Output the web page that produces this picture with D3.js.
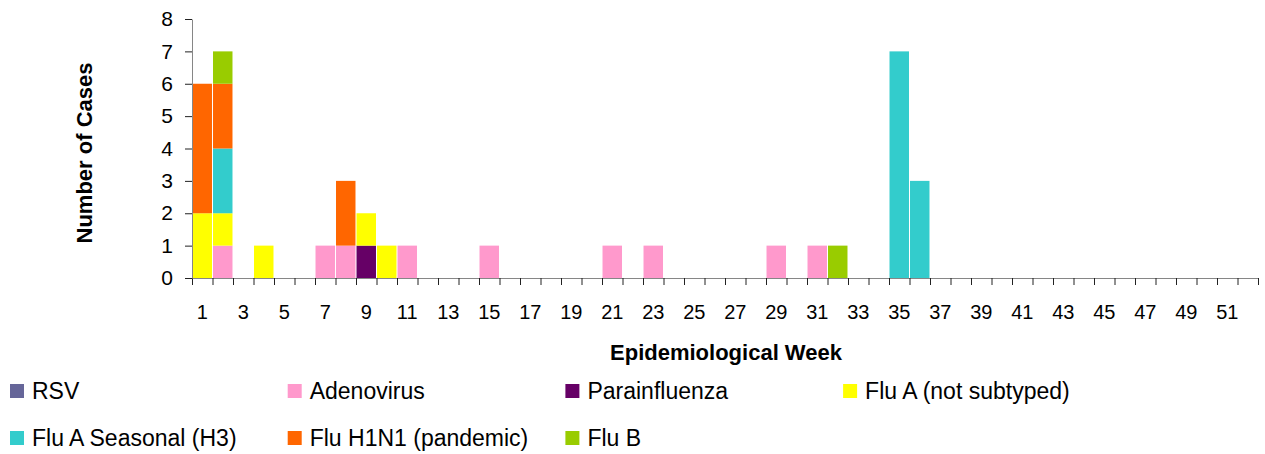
<!DOCTYPE html>
<style>
body {
  margin: 0;
  font-family: 'Liberation Sans', Arial, sans-serif;
  background: #fff;
}
.axis .domain {
  stroke: #868686;
}
.axis .tick line {
  stroke: #222;
}
</style>
<svg width="1265" height="454"></svg>
<script src="https://d3js.org/d3.v7.min.js"></script>
<script>
// weeks on the x axis
var weeks = d3.range(1, 53);

// cases per week, one array per virus (index 0 = week 1)
var rsv =        [0,0,0,0,0,0,0,0,0,0, 0,0,0,0,0,0,0,0,0,0, 0,0,0,0,0,0,0,0,0,0, 0,0,0,0,0,0,0,0,0,0, 0,0,0,0,0,0,0,0,0,0, 0,0];
var adenovirus = [0,1,0,0,0,0,1,1,0,0, 1,0,0,0,1,0,0,0,0,0, 1,0,1,0,0,0,0,0,1,0, 1,0,0,0,0,0,0,0,0,0, 0,0,0,0,0,0,0,0,0,0, 0,0];
var parainfl =   [0,0,0,0,0,0,0,0,1,0, 0,0,0,0,0,0,0,0,0,0, 0,0,0,0,0,0,0,0,0,0, 0,0,0,0,0,0,0,0,0,0, 0,0,0,0,0,0,0,0,0,0, 0,0];
var fluA =       [2,1,0,1,0,0,0,0,1,1, 0,0,0,0,0,0,0,0,0,0, 0,0,0,0,0,0,0,0,0,0, 0,0,0,0,0,0,0,0,0,0, 0,0,0,0,0,0,0,0,0,0, 0,0];
var fluH3 =      [0,2,0,0,0,0,0,0,0,0, 0,0,0,0,0,0,0,0,0,0, 0,0,0,0,0,0,0,0,0,0, 0,0,0,0,7,3,0,0,0,0, 0,0,0,0,0,0,0,0,0,0, 0,0];
var fluH1N1 =    [4,2,0,0,0,0,0,2,0,0, 0,0,0,0,0,0,0,0,0,0, 0,0,0,0,0,0,0,0,0,0, 0,0,0,0,0,0,0,0,0,0, 0,0,0,0,0,0,0,0,0,0, 0,0];
var fluB =       [0,1,0,0,0,0,0,0,0,0, 0,0,0,0,0,0,0,0,0,0, 0,0,0,0,0,0,0,0,0,0, 0,1,0,0,0,0,0,0,0,0, 0,0,0,0,0,0,0,0,0,0, 0,0];

var seriesNames = ["RSV", "Adenovirus", "Parainfluenza", "Flu A (not subtyped)",
                   "Flu A Seasonal (H3)", "Flu H1N1 (pandemic)", "Flu B"];
var seriesValues = [rsv, adenovirus, parainfl, fluA, fluH3, fluH1N1, fluB];
var seriesColors = ["#666699", "#ff99cc", "#660066", "#ffff00", "#33cccc", "#ff6600", "#99cc00"];
var yTicks = [0, 1, 2, 3, 4, 5, 6, 7, 8];

// build table for the stack
var data = weeks.map(function(w, i) {
  var row = {week: w};
  seriesNames.forEach(function(s, j) { row[s] = seriesValues[j][i]; });
  return row;
});

var svg = d3.select("svg"),
    margin = {top: 19, left: 192},
    width = 1066,
    height = 259,
    g = svg.append("g").attr("transform", "translate(" + margin.left + "," + margin.top + ")");

var x = d3.scaleBand()
    .domain(weeks)
    .range([0, width])
    .paddingInner(0.05)
    .paddingOuter(0.025);

var y = d3.scaleLinear()
    .domain([0, 8])
    .range([height, 0]);

var z = d3.scaleOrdinal()
    .domain(seriesNames)
    .range(seriesColors);

// bars
g.append("g")
  .selectAll("g")
  .data(d3.stack().keys(seriesNames)(data))
  .enter().append("g")
    .attr("fill", function(d) { return z(d.key); })
  .selectAll("rect")
  .data(function(d) { return d.filter(function(p) { return p[1] > p[0]; }); })
  .enter().append("rect")
    .attr("x", function(d) { return x(d.data.week); })
    .attr("y", function(d) { return y(d[1]); })
    .attr("height", function(d) { return y(d[0]) - y(d[1]); })
    .attr("width", x.bandwidth());

// x axis: ticks on band edges, labels on odd weeks
var edge = d3.scaleLinear().domain([0, weeks.length]).range([0, width]);
g.append("g")
    .attr("class", "axis")
    .attr("transform", "translate(0," + height + ")")
    .call(d3.axisBottom(edge).tickValues(d3.range(0, weeks.length + 1)).tickSize(7).tickSizeOuter(0).tickFormat(""));

g.append("g")
    .attr("transform", "translate(0," + height + ")")
  .selectAll("text")
  .data(weeks.filter(function(w) { return w % 2 === 1; }))
  .enter().append("text")
    .attr("x", function(w) { return x(w) + x.bandwidth() / 2; })
    .attr("y", 41)
    .attr("text-anchor", "middle")
    .attr("font-size", 20)
    .attr("fill", "#000")
    .text(function(w) { return w; });

// y axis
g.append("g")
    .attr("class", "axis")
    .call(d3.axisLeft(y).tickValues(yTicks).tickSize(7).tickSizeOuter(0).tickPadding(12))
  .selectAll("text")
    .attr("font-size", 21)
    .attr("font-family", "'Liberation Sans', Arial, sans-serif")
    .attr("fill", "#000");

// axis titles
svg.append("text")
    .attr("x", 726)
    .attr("y", 360)
    .attr("text-anchor", "middle")
    .attr("font-size", 22)
    .attr("font-weight", "bold")
    .text("Epidemiological Week");

svg.append("text")
    .attr("transform", "translate(92,153) rotate(-90)")
    .attr("text-anchor", "middle")
    .attr("font-size", 22)
    .attr("font-weight", "bold")
    .text("Number of Cases");

// legend, 4 columns
var legend = svg.append("g")
  .selectAll("g")
  .data(seriesNames)
  .enter().append("g")
    .attr("transform", function(d, i) {
      return "translate(" + (10 + (i % 4) * 277.7) + "," + (391 + Math.floor(i / 4) * 47) + ")";
    });

legend.append("rect")
    .attr("y", -7)
    .attr("width", 14)
    .attr("height", 14)
    .attr("fill", z);

legend.append("text")
    .attr("x", 22)
    .attr("dy", "0.35em")
    .attr("font-size", 23)
    .text(function(d) { return d; });
</script>
